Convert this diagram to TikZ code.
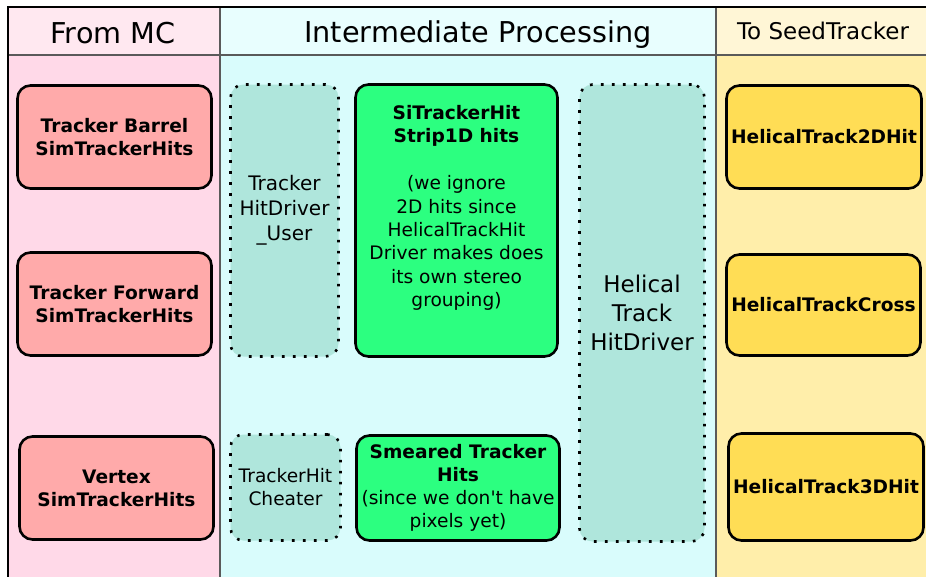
\documentclass[tikz,border=0pt]{standalone}
\usepackage{fontspec}
\setmainfont{DejaVu Sans}[Ligatures=TeXOff]
\definecolor{hdrpink}{RGB}{255,232,240}
\definecolor{bodypink}{RGB}{255,217,232}
\definecolor{hdrcyan}{RGB}{232,254,254}
\definecolor{bodycyan}{RGB}{217,252,252}
\definecolor{hdryel}{RGB}{255,246,214}
\definecolor{bodyyel}{RGB}{255,238,170}
\definecolor{boxred}{RGB}{255,170,170}
\definecolor{boxgreen}{RGB}{44,255,128}
\definecolor{dotfill}{RGB}{175,230,220}
\definecolor{boxyel}{RGB}{255,221,85}
\definecolor{linegray}{RGB}{90,90,90}
\begin{document}
\begin{tikzpicture}[x=1pt,y=-1pt,
  box/.style={draw=black, line width=2.6pt, rounded corners=13pt, align=center, inner sep=0pt},
  boldtxt/.style={font=\fontsize{18.6}{23}\selectfont\bfseries},
  redbox/.style={box, fill=boxred, boldtxt},
  greenbox/.style={box, fill=boxgreen, font=\fontsize{18.6}{23}\selectfont},
  yelbox/.style={box, fill=boxyel, boldtxt},
  dotbox/.style={fill=dotfill, draw=black, rounded corners=13pt, line width=2.6pt,
    dash pattern=on 2.6pt off 8.4pt, align=center, inner sep=0pt},
  hdr/.style={font=\fontsize{28.7}{33}\selectfont, inner sep=0pt, anchor=base},
  colline/.style={draw=linegray, line width=1.6pt}
]
\useasboundingbox (0,0) rectangle (926,576);
\begin{scope}
\clip (0,0) rectangle (926,576);
% column backgrounds
\fill[hdrpink] (8,7) rectangle (220,55);
\fill[bodypink] (8,55) rectangle (220,580);
\fill[hdrcyan] (220,7) rectangle (716,55);
\fill[bodycyan] (220,55) rectangle (716,580);
\fill[hdryel] (716,7) rectangle (930,55);
\fill[bodyyel] (716,55) rectangle (930,580);
% lines
\draw[colline] (8,55) -- (930,55);
\draw[colline] (220,7) -- (220,580);
\draw[colline] (716,7) -- (716,580);
\draw[black, line width=1.6pt] (8,580) -- (8,7) -- (930,7);
\end{scope}
% headers
\node[hdr] (hmc) at (113,43) {From MC};
\node[hdr] (hip) at (478,42) {Intermediate Processing};
\node[hdr, font=\fontsize{23}{27}\selectfont] (hst) at (823,39.5) {To SeedTracker};
% From MC boxes
\node[redbox, minimum width=194pt, minimum height=103pt] (tb) at (114.5,137) {Tracker Barrel\\SimTrackerHits};
\node[redbox, minimum width=194pt, minimum height=103pt] (tf) at (114.5,304) {Tracker Forward\\SimTrackerHits};
\node[redbox, minimum width=194pt, minimum height=103pt] (vx) at (116.5,488) {Vertex\\SimTrackerHits};
% Intermediate
\node[dotbox, minimum width=108pt, minimum height=272pt] (hdu) at (284.5,220.5) {};
\node[font=\fontsize{20}{25}\selectfont, align=center] (hdutxt) at (284.5,210) {Tracker\\HitDriver\\\_User};
\node[greenbox, minimum width=202pt, minimum height=272pt] (si) at (456.5,220.5) {};
\node[font=\fontsize{18.6}{23.4}\selectfont, align=center] (sitxt) at (456.5,208) {\textbf{SiTrackerHit}\\\textbf{Strip1D hits}\\[23.4pt](we ignore\\2D hits since\\HelicalTrackHit\\Driver makes does\\its own stereo\\grouping)};
\node[dotbox, minimum width=125pt, minimum height=457pt, font=\fontsize{23}{29}\selectfont] (htd) at (642,313) {Helical\\Track\\HitDriver};
\node[dotbox, minimum width=110pt, minimum height=106pt, font=\fontsize{18.6}{23}\selectfont] (thc) at (285.5,487.5) {TrackerHit\\Cheater};
\node[greenbox, minimum width=203pt, minimum height=105pt] (sm) at (458,488) {\textbf{Smeared Tracker}\\\textbf{Hits}\\(since we don't have\\pixels yet)};
% To SeedTracker
\node[yelbox, minimum width=195pt, minimum height=103pt] (h2) at (824,137) {HelicalTrack2DHit};
\node[yelbox, minimum width=194pt, minimum height=101pt] (hc) at (823.5,305) {HelicalTrackCross};
\node[yelbox, minimum width=195pt, minimum height=107pt] (h3) at (826,487) {HelicalTrack3DHit};
\end{tikzpicture}
\end{document}
